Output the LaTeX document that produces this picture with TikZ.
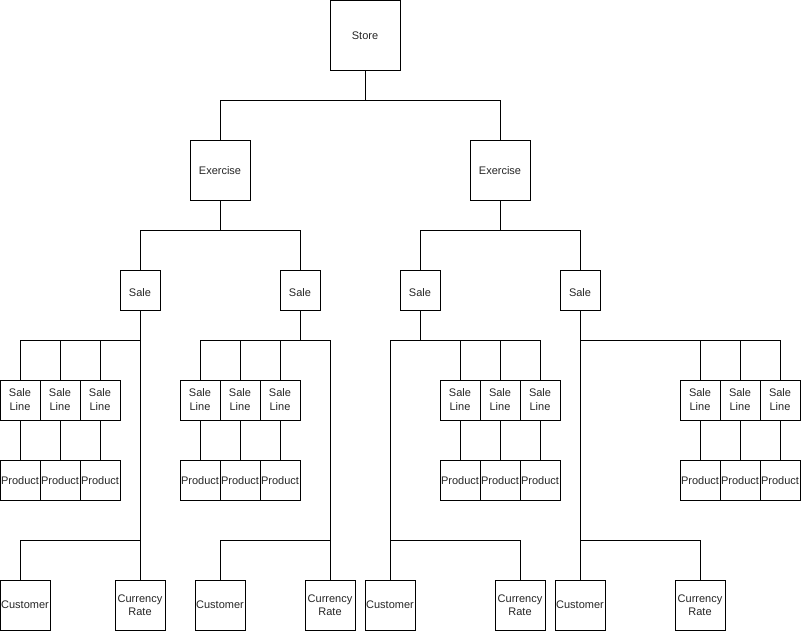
\documentclass[tikz,border=0pt]{standalone}
\usepackage{fontspec}
\setmainfont{Liberation Sans}
\newcommand{\lowtxt}[2]{\raisebox{-#1}[\height][\depth]{#2}}
\begin{document}
\begin{tikzpicture}[x=1pt,y=-1pt,line width=1pt,
  box/.style={draw=black,fill=white,rectangle,inner sep=0pt,align=center,
    font=\fontsize{11}{14}\selectfont,text=black!85},
  b70/.style={box,minimum width=70pt,minimum height=70pt},
  b60/.style={box,minimum width=60pt,minimum height=60pt},
  b50/.style={box,minimum width=50pt,minimum height=50pt,font=\fontsize{11}{13}\selectfont},
  b40/.style={box,minimum width=40pt,minimum height=40pt},
  wire/.style={draw=black,line width=1pt}]
\useasboundingbox (0,0) rectangle (802,632);
\coordinate (y340) at (0,340);
\coordinate (y540) at (0,540);

\node[b70] (store) at (365,35) {\lowtxt{1pt}{Store}};
\node[b60] (ex1) at (220,170) {\lowtxt{1pt}{Exercise}};
\node[b60] (ex2) at (500,170) {\lowtxt{1pt}{Exercise}};
\node[b40] (s1) at (140,290) {\lowtxt{3pt}{Sale}};
\node[b40] (s2) at (300,290) {\lowtxt{3pt}{Sale}};
\node[b40] (s3) at (420,290) {\lowtxt{3pt}{Sale}};
\node[b40] (s4) at (580,290) {\lowtxt{3pt}{Sale}};

% sale lines and products
\foreach \n/\x in {11/20,12/60,13/100,21/200,22/240,23/280,31/460,32/500,33/540,41/700,42/740,43/780}{
  \node[b40] (sl\n) at (\x,400) {Sale\\Line};
  \node[b40] (p\n) at (\x,480) {\lowtxt{1pt}{Product}};
  \draw[wire] (sl\n.south) -- (p\n.north);
}

% customers and currency rates
\node[b50] (cu1) at (25,605) {Customer};
\node[b50] (cr1) at (140,605) {Currency\\Rate};
\node[b50] (cu2) at (220,605) {Customer};
\node[b50] (cr2) at (330,605) {Currency\\Rate};
\node[b50] (cu3) at (390,605) {Customer};
\node[b50] (cr3) at (520,605) {Currency\\Rate};
\node[b50] (cu4) at (580,605) {Customer};
\node[b50] (cr4) at (700,605) {Currency\\Rate};
\coordinate (cu1in) at (20,580);

% top levels
\draw[wire] (store.south) -- ++(0,30) -| (ex1.north);
\draw[wire] (store.south) -- ++(0,30) -| (ex2.north);
\draw[wire] (ex1.south) -- ++(0,30) -| (s1.north);
\draw[wire] (ex1.south) -- ++(0,30) -| (s2.north);
\draw[wire] (ex2.south) -- ++(0,30) -| (s3.north);
\draw[wire] (ex2.south) -- ++(0,30) -| (s4.north);

% sale 1
\draw[wire] (s1.south) -- (cr1.north);
\draw[wire] (sl11.north) |- (s1.south |- y340);
\draw[wire] (sl12.north) -- (sl12.north |- y340);
\draw[wire] (sl13.north) -- (sl13.north |- y340);
\draw[wire] (s1.south |- y540) -| (cu1in);

% sale 2
\draw[wire] (s2.south) -- (s2.south |- y340);
\draw[wire] (sl21.north) |- (cr2.north |- y340) -- (cr2.north);
\draw[wire] (sl22.north) -- (sl22.north |- y340);
\draw[wire] (sl23.north) -- (sl23.north |- y340);
\draw[wire] (cr2.north |- y540) -| (cu2.north);

% sale 3
\draw[wire] (s3.south) -- (s3.south |- y340);
\draw[wire] (cu3.north) |- (sl33.north |- y340) -- (sl33.north);
\draw[wire] (sl31.north) -- (sl31.north |- y340);
\draw[wire] (sl32.north) -- (sl32.north |- y340);
\draw[wire] (cu3.north |- y540) -| (cr3.north);

% sale 4
\draw[wire] (s4.south) -- (cu4.north);
\draw[wire] (s4.south |- y340) -| (sl43.north);
\draw[wire] (sl41.north) -- (sl41.north |- y340);
\draw[wire] (sl42.north) -- (sl42.north |- y340);
\draw[wire] (cu4.north |- y540) -| (cr4.north);
\end{tikzpicture}
\end{document}
